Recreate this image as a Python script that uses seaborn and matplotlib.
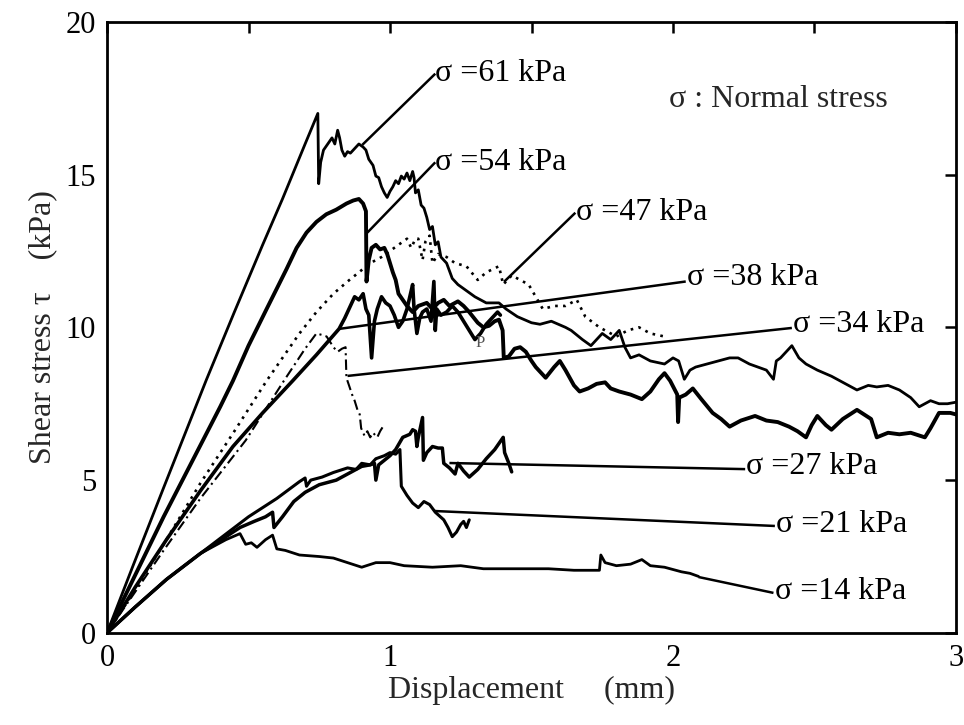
import matplotlib
matplotlib.use("Agg")
import matplotlib.pyplot as plt
from matplotlib.ticker import MultipleLocator
import seaborn as sns

# Shear stress (kPa) vs. displacement (mm) for each normal stress level
disp_61 = [0, 0.092, 0.20, 0.351, 0.45, 0.55, 0.62, 0.66, 0.70, 0.745, 0.748, 0.755, 0.765, 0.78,
           0.795, 0.805, 0.815, 0.822, 0.83, 0.84, 0.85, 0.86, 0.875, 0.89, 0.905, 0.915, 0.925,
           0.94, 0.95, 0.96, 0.97, 0.98, 0.99, 1.0, 1.01, 1.02, 1.03, 1.04, 1.05, 1.06, 1.07,
           1.08, 1.085, 1.09, 1.10, 1.11, 1.12, 1.13, 1.14, 1.15, 1.16, 1.17, 1.18, 1.20, 1.22,
           1.24, 1.27, 1.30, 1.34, 1.385, 1.41, 1.45, 1.50, 1.53, 1.57, 1.62, 1.64, 1.68, 1.71,
           1.75, 1.78, 1.81, 1.83, 1.85, 1.88, 1.92, 1.97, 2.0, 2.02, 2.04, 2.06, 2.08, 2.12,
           2.16, 2.20, 2.23, 2.27, 2.30, 2.33, 2.355, 2.365, 2.38, 2.40, 2.42, 2.445, 2.47, 2.51,
           2.56, 2.60, 2.65, 2.69, 2.72, 2.76, 2.80, 2.84, 2.87, 2.91, 2.94, 2.97, 3.0]
tau_61 = [0, 2.2, 4.75, 8.28, 10.5, 12.7, 14.2, 15.1, 16.0, 17.0, 14.7, 15.4, 15.8, 16.0,
          16.2, 16.0, 16.45, 16.2, 15.8, 15.6, 15.75, 15.7, 15.85, 16.0, 15.9, 15.8, 15.5,
          15.3, 14.95, 14.9, 14.6, 14.4, 14.25, 14.45, 14.6, 14.8, 14.7, 14.95, 14.85, 15.05, 14.8,
          15.1, 14.9, 14.4, 14.5, 14.0, 13.9, 13.6, 13.2, 13.3, 12.7, 12.8, 12.3, 12.1, 11.6,
          11.4, 11.2, 11.0, 10.8, 10.8, 10.6, 10.35, 10.15, 10.1, 10.2, 10.0, 9.9, 9.6, 9.4,
          9.8, 9.6, 9.9, 9.35, 9.0, 9.1, 8.9, 8.8, 9.0, 8.9, 8.3, 8.6, 8.7, 8.8,
          8.9, 9.0, 9.0, 8.8, 8.7, 8.6, 8.3, 8.9, 9.0, 9.2, 9.4, 9.0, 8.8, 8.6,
          8.4, 8.2, 7.95, 8.1, 8.05, 8.1, 7.95, 7.7, 7.4, 7.6, 7.5, 7.5, 7.55]

disp_54 = [0, 0.10, 0.20, 0.30, 0.40, 0.445, 0.50, 0.564, 0.634, 0.67, 0.705, 0.74, 0.775, 0.81,
           0.846, 0.87, 0.89, 0.905, 0.915, 0.917, 0.925, 0.935, 0.95, 0.965, 0.98, 0.99, 1.0,
           1.01, 1.02, 1.03, 1.045, 1.06, 1.08, 1.10, 1.13, 1.15, 1.17, 1.19, 1.21, 1.24, 1.26,
           1.28, 1.31, 1.33, 1.35, 1.37, 1.385, 1.398, 1.402, 1.42, 1.44, 1.46, 1.48, 1.50, 1.515,
           1.535, 1.55, 1.58, 1.60, 1.62, 1.65, 1.67, 1.70, 1.73, 1.76, 1.78, 1.81, 1.85, 1.89,
           1.92, 1.95, 1.97, 1.99, 2.015, 2.018, 2.022, 2.045, 2.07, 2.10, 2.14, 2.17, 2.20, 2.24,
           2.29, 2.33, 2.37, 2.41, 2.44, 2.47, 2.49, 2.51, 2.54, 2.56, 2.60, 2.65, 2.70, 2.72,
           2.76, 2.80, 2.84, 2.89, 2.91, 2.94, 2.98, 3.0]
tau_54 = [0, 1.9, 3.8, 5.6, 7.4, 8.25, 9.4, 10.6, 11.9, 12.6, 13.1, 13.45, 13.7, 13.85,
          14.05, 14.15, 14.2, 14.05, 13.8, 11.5, 12.2, 12.6, 12.7, 12.55, 12.6, 12.4, 12.1,
          11.8, 11.55, 11.1, 10.9, 10.7, 10.5, 10.7, 10.8, 10.6, 10.8, 10.9, 10.7, 10.85, 10.7,
          10.5, 10.15, 10.0, 10.05, 10.2, 10.25, 9.9, 9.0, 9.05, 9.3, 9.35, 9.2, 8.9, 8.7,
          8.5, 8.35, 8.7, 8.9, 8.6, 8.1, 7.9, 8.0, 8.15, 8.2, 8.0, 7.9, 7.8, 7.65,
          7.9, 8.3, 8.5, 8.25, 7.8, 6.9, 7.7, 7.8, 8.0, 7.65, 7.2, 7.0, 6.75, 6.95,
          7.1, 6.95, 6.9, 6.75, 6.6, 6.4, 6.8, 7.1, 6.8, 6.65, 7.0, 7.3, 7.0, 6.4,
          6.55, 6.5, 6.55, 6.4, 6.7, 7.2, 7.2, 7.15]

disp_47 = [0, 0.092, 0.20, 0.33, 0.45, 0.564, 0.62, 0.68, 0.74, 0.80, 0.85, 0.89, 0.93, 0.97,
           1.0, 1.03, 1.06, 1.075, 1.09, 1.10, 1.115, 1.125, 1.14, 1.15, 1.17, 1.20, 1.23, 1.27,
           1.31, 1.34, 1.385, 1.40, 1.43, 1.46, 1.49, 1.515, 1.54, 1.58, 1.62, 1.66, 1.69, 1.74,
           1.80, 1.84, 1.88, 1.92, 1.97]
tau_47 = [0, 1.3, 2.9, 4.9, 6.6, 8.25, 9.0, 9.8, 10.5, 11.1, 11.5, 11.8, 12.1, 12.3,
          12.5, 12.7, 12.9, 12.6, 12.9, 12.9, 12.2, 12.8, 13.0, 12.1, 12.4, 12.3, 12.1, 12.0,
          11.55, 11.8, 12.0, 11.4, 11.7, 11.55, 11.4, 11.0, 10.6, 10.7, 10.7, 10.9, 10.35, 10.0,
          9.7, 9.9, 10.0, 9.8, 9.7]

disp_38 = [0, 0.10, 0.21, 0.33, 0.445, 0.55, 0.656, 0.74, 0.82, 0.84, 0.86, 0.875, 0.89, 0.905,
           0.915, 0.925, 0.935, 0.945, 0.955, 0.97, 0.985, 1.0, 1.015, 1.03, 1.045, 1.06, 1.07,
           1.08, 1.085, 1.095, 1.105, 1.115, 1.13, 1.145, 1.155, 1.16, 1.165, 1.18, 1.20, 1.22,
           1.24, 1.26, 1.28, 1.30, 1.32, 1.34, 1.36, 1.38, 1.39]
tau_38 = [0, 1.5, 3.05, 4.65, 6.1, 7.2, 8.25, 9.1, 9.95, 10.3, 10.7, 11.0, 10.9, 11.1,
          10.6, 10.4, 9.0, 10.2, 10.6, 11.0, 10.8, 10.7, 10.4, 10.0, 10.2, 10.6, 11.0,
          11.4, 10.6, 9.8, 10.3, 10.5, 10.6, 10.2, 11.5, 9.9, 10.6, 10.4, 10.5, 10.7,
          10.5, 10.2, 9.9, 9.6, 9.8, 10.1, 10.3, 10.5, 10.4]

disp_34 = [0, 0.10, 0.20, 0.33, 0.49, 0.625, 0.70, 0.74, 0.76, 0.776, 0.79, 0.80, 0.815, 0.83,
           0.843, 0.846, 0.857, 0.866, 0.875, 0.885, 0.893, 0.898, 0.91, 0.92, 0.93, 0.94, 0.955,
           0.965, 0.975]
tau_34 = [0, 1.35, 2.7, 4.4, 6.3, 8.25, 9.3, 9.8, 9.75, 9.7, 9.5, 9.35, 9.2, 9.3,
          9.35, 8.35, 8.05, 7.8, 7.6, 7.3, 7.15, 6.7, 6.45, 6.6, 6.4, 6.55, 6.4,
          6.6, 6.75]

disp_27 = [0, 0.10, 0.21, 0.33, 0.47, 0.52, 0.56, 0.585, 0.59, 0.62, 0.66, 0.70, 0.75, 0.79,
           0.81, 0.84, 0.87, 0.90, 0.93, 0.945, 0.95, 0.96, 0.98, 1.0, 1.02, 1.045, 1.07, 1.08,
           1.09, 1.095, 1.10, 1.115, 1.118, 1.13, 1.15, 1.17, 1.185, 1.19, 1.21, 1.23, 1.24,
           1.26, 1.28, 1.31, 1.34, 1.37, 1.40, 1.405, 1.42, 1.43]
tau_27 = [0, 0.85, 1.75, 2.6, 3.45, 3.65, 3.8, 3.95, 3.45, 3.8, 4.3, 4.6, 4.85, 4.95,
          5.0, 5.15, 5.3, 5.45, 5.5, 5.55, 5.0, 5.5, 5.65, 5.8, 6.0, 6.4, 6.5, 6.65,
          6.6, 6.1, 6.4, 7.05, 5.65, 5.9, 6.1, 6.05, 6.05, 5.55, 5.4, 5.2, 5.55,
          5.3, 5.1, 5.35, 5.7, 6.0, 6.4, 5.9, 5.55, 5.27]

disp_21 = [0, 0.10, 0.21, 0.33, 0.50, 0.60, 0.68, 0.70, 0.705, 0.72, 0.76, 0.80, 0.85, 0.88,
           0.90, 0.93, 0.95, 0.98, 1.0, 1.02, 1.035, 1.04, 1.06, 1.08, 1.10, 1.12, 1.14, 1.16,
           1.19, 1.205, 1.22, 1.235, 1.25, 1.26, 1.27, 1.28]
tau_21 = [0, 0.85, 1.75, 2.6, 3.8, 4.4, 4.95, 5.07, 4.8, 5.0, 5.1, 5.25, 5.4, 5.35,
          5.55, 5.5, 5.7, 5.8, 5.9, 5.85, 6.0, 4.8, 4.5, 4.25, 4.1, 4.3, 4.2, 3.95,
          3.7, 3.45, 3.15, 3.3, 3.55, 3.65, 3.45, 3.7]

disp_14 = [0, 0.10, 0.21, 0.33, 0.42, 0.47, 0.49, 0.51, 0.53, 0.56, 0.585, 0.60, 0.63, 0.68,
           0.75, 0.80, 0.85, 0.90, 0.95, 1.0, 1.05, 1.15, 1.25, 1.33, 1.45, 1.56, 1.65, 1.74,
           1.745, 1.76, 1.80, 1.85, 1.89, 1.92, 1.97, 2.03, 2.06, 2.09]
tau_14 = [0, 0.85, 1.75, 2.6, 3.05, 3.25, 2.9, 2.95, 2.8, 3.05, 3.2, 2.75, 2.7, 2.55,
          2.5, 2.45, 2.3, 2.15, 2.3, 2.3, 2.2, 2.15, 2.2, 2.1, 2.1, 2.1, 2.05, 2.05,
          2.55, 2.3, 2.2, 2.25, 2.4, 2.2, 2.15, 2.0, 1.95, 1.85]

labels = ["σ =61 kPa", "σ =54 kPa", "σ =47 kPa", "σ =38 kPa",
          "σ =34 kPa", "σ =27 kPa", "σ =21 kPa", "σ =14 kPa"]

sns.set_theme(style="white")
plt.rcParams["font.family"] = ["Liberation Serif", "DejaVu Serif"]

fig = plt.figure(figsize=(9.64, 7.25), dpi=100)
ax = fig.add_axes([0.111, 0.127, 0.8807, 0.843])

series = [
    (disp_61, tau_61, dict(linewidth=2.0, linestyle="-")),
    (disp_54, tau_54, dict(linewidth=2.8, linestyle="-")),
    (disp_47, tau_47, dict(linewidth=1.9, linestyle=(0, (1, 2)))),
    (disp_38, tau_38, dict(linewidth=2.6, linestyle="-")),
    (disp_34, tau_34, dict(linewidth=1.5, linestyle=(0, (5, 2, 1, 2)))),
    (disp_27, tau_27, dict(linewidth=2.5, linestyle="-")),
    (disp_21, tau_21, dict(linewidth=2.2, linestyle="-")),
    (disp_14, tau_14, dict(linewidth=2.0, linestyle="-")),
]
for xs, ys, style in series:
    sns.lineplot(x=xs, y=ys, sort=False, estimator=None, color="black", ax=ax, **style)

# Leader lines: (point on curve) -> (label anchor)
leaders = [
    ((0.902, 15.97), (1.160, 18.30)),
    ((0.920, 13.10), (1.160, 15.40)),
    ((1.403, 11.49), (1.655, 13.75)),
    ((0.821, 9.95), (2.045, 11.50)),
    ((0.850, 8.41), (2.420, 9.98)),
    ((1.210, 5.56), (2.255, 5.36)),
    ((1.156, 3.99), (2.360, 3.50)),
    ((2.090, 1.83), (2.355, 1.31)),
]
text_pos = [(1.160, 18.30), (1.160, 15.40), (1.657, 13.75), (2.048, 11.62),
            (2.425, 10.08), (2.257, 5.43), (2.365, 3.55), (2.362, 1.35)]
for (p0, p1), lab, (tx, ty) in zip(leaders, labels, text_pos):
    ax.plot([p0[0], p1[0]], [p0[1], p1[1]], color="black", lw=1.8, solid_capstyle="butt")
    ax.text(tx, ty, lab, fontsize=23, ha="left", va="center", color="black")

ax.text(1.985, 17.45, "σ : Normal stress", fontsize=23, ha="left", va="center")
ax.text(1.32, 9.5, "P", fontsize=12, ha="center", va="center", color="#555555")

ax.set_xlim(0, 3)
ax.set_ylim(0, 20)
ax.xaxis.set_major_locator(MultipleLocator(1))
ax.xaxis.set_minor_locator(MultipleLocator(0.5))
ax.yaxis.set_major_locator(MultipleLocator(5))
ax.tick_params(axis="both", which="both", direction="in", top=True, right=True,
               length=8, width=1.8, labelsize=22, colors="black", pad=8)
for sp in ax.spines.values():
    sp.set_linewidth(2)
    sp.set_color("black")

ax.set_xlabel("Displacement     (mm)", fontsize=23, labelpad=2)
ax.set_ylabel("Shear stress τ    (kPa)", fontsize=23, labelpad=6)

fig.savefig("out.png", dpi=100, facecolor="white")
